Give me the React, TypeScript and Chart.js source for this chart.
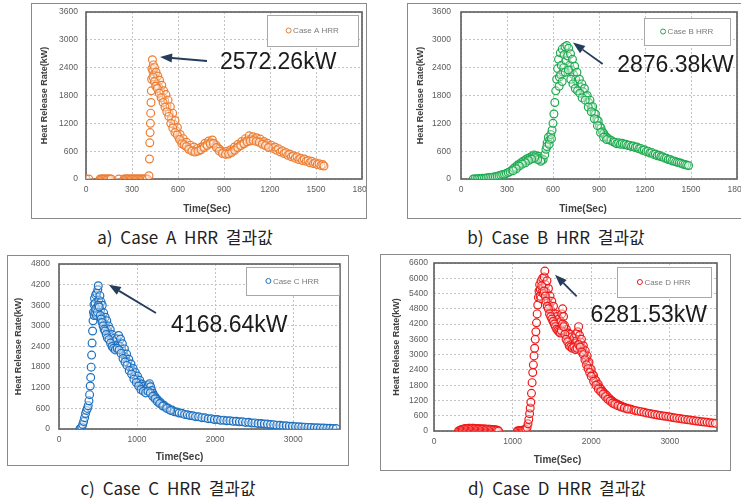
import React, { useEffect, useRef } from "react";
import { Chart, registerables } from "chart.js";

Chart.register(...registerables);

type Pt = [number, number];

// ---------- data (time in s, heat release rate in kW) ----------
const caseAPoints: Pt[] = [
  [0, 0], [18, 0], [92, 0], [100, 0], [108, 0], [116, 0], [124, 0], [132, 0], [140, 0], [148, 0], [156, 0], [164, 0],
  [214, 0], [248, 0], [256, 0], [264, 0], [272, 0], [280, 0], [288, 0], [296, 0], [304, 0], [312, 0], [320, 0],
  [328, 0], [336, 0], [344, 0], [352, 0], [360, 0], [368, 0], [376, 0], [384, 0], [392, 0], [400, 0], [411, 70],
  [414, 430], [416, 780], [418, 1000], [420, 1200], [422, 1420], [424, 1650], [426, 1900], [428, 2150], [430, 2380],
  [433, 2572], [436, 2330], [439, 2460], [443, 2250], [447, 2400], [452, 2120], [457, 2300], [462, 2040], [468, 2220],
  [474, 1980], [480, 2130], [487, 1880], [494, 2020], [500, 1760], [507, 1900], [514, 1680], [521, 1820], [528, 1560],
  [535, 1700], [542, 1420], [550, 1560], [557, 1300], [565, 1420], [572, 1180], [580, 1260], [588, 1040], [596, 1110],
  [605, 900], [614, 960], [624, 820], [634, 870], [645, 720], [656, 790], [668, 670], [680, 730], [692, 620], [704, 690],
  [716, 600], [728, 660], [740, 620], [752, 690], [764, 700], [776, 770], [788, 740], [800, 820], [812, 790], [824, 840],
  [836, 760], [848, 730], [860, 670], [872, 640], [884, 600], [896, 580], [908, 550], [920, 600], [932, 570], [944, 630],
  [956, 610], [968, 690], [980, 660], [992, 750], [1004, 720], [1016, 810], [1028, 780], [1040, 870], [1052, 830],
  [1064, 930], [1076, 860], [1088, 910], [1100, 850], [1112, 890], [1124, 820], [1136, 860], [1148, 780], [1160, 810],
  [1172, 740], [1184, 770], [1196, 700], [1208, 730], [1220, 660], [1232, 690], [1244, 620], [1256, 650], [1268, 580],
  [1280, 610], [1292, 550], [1304, 570], [1316, 510], [1328, 540], [1340, 480], [1352, 500], [1364, 450], [1376, 480],
  [1388, 420], [1400, 450], [1412, 400], [1424, 430], [1436, 380], [1448, 400], [1460, 350], [1472, 380], [1484, 330],
  [1496, 350], [1508, 310], [1520, 330], [1532, 290], [1544, 310], [1552, 280],
  [437, 2200], [445, 2100], [455, 2000], [465, 1950], [478, 1850], [490, 1750], [503, 1650], [515, 1550], [527, 1450],
  [540, 1350], [553, 1200], [566, 1100], [580, 1000], [595, 950], [610, 850], [625, 760], [640, 740], [655, 700],
  [670, 640], [690, 600], [710, 580], [730, 600], [750, 630], [770, 680], [790, 720], [810, 760], [830, 770], [850, 680],
  [870, 600], [890, 550], [910, 530], [930, 540], [950, 570], [970, 620], [990, 680], [1010, 720], [1030, 760],
  [1050, 800], [1070, 820], [1090, 830], [1110, 810], [1130, 790], [1150, 750], [1170, 720], [1190, 680],
];

const caseBPoints: Pt[] = [
  [80, 0], [92, 5], [104, 0], [116, 10], [128, 5], [140, 15], [152, 10], [164, 20], [176, 25], [188, 30], [200, 35],
  [212, 45], [224, 50], [236, 60], [248, 70], [260, 80], [272, 95], [284, 100], [296, 120], [308, 140], [320, 160],
  [332, 190], [344, 230], [356, 260], [368, 300], [380, 320], [392, 350], [404, 380], [416, 400], [428, 430], [440, 450],
  [452, 470], [464, 490], [476, 520], [486, 500], [496, 470], [506, 490], [516, 450], [526, 410], [536, 420], [546, 520],
  [554, 640], [562, 780], [570, 900], [578, 840], [586, 960], [594, 1050], [600, 1200], [606, 1400], [612, 1650],
  [618, 1900], [624, 2150], [630, 2380], [636, 2580], [642, 2200], [648, 2720], [654, 2450], [660, 2800], [666, 2300],
  [672, 2680], [678, 2850], [684, 2550], [690, 2876], [696, 2650], [702, 2820], [708, 2450], [714, 2700], [720, 2350],
  [727, 2580], [734, 2250], [741, 2430], [748, 2150], [756, 2300], [764, 2050], [772, 2150], [780, 1980], [788, 2050],
  [796, 1880], [805, 1950], [814, 1780], [823, 1800], [832, 1650], [841, 1700], [850, 1550], [859, 1560], [868, 1420],
  [877, 1400], [886, 1280], [895, 1250], [904, 1140], [913, 1100], [922, 1020], [931, 980], [940, 930], [950, 900],
  [960, 870], [970, 840], [980, 830], [992, 800], [1004, 790], [1016, 760], [1028, 780], [1040, 750], [1052, 770],
  [1064, 740], [1076, 750], [1088, 720], [1100, 730], [1112, 700], [1124, 710], [1136, 680], [1148, 690], [1160, 650],
  [1172, 660], [1184, 620], [1196, 630], [1208, 590], [1220, 600], [1232, 560], [1244, 570], [1256, 530], [1268, 540],
  [1280, 500], [1292, 510], [1304, 480], [1316, 480], [1328, 450], [1340, 450], [1352, 420], [1364, 420], [1376, 390],
  [1388, 390], [1400, 370], [1412, 360], [1424, 350], [1436, 340], [1448, 320], [1460, 310], [1472, 300], [1484, 290],
  [640, 2000], [650, 2250], [660, 2100], [670, 2400], [680, 2300], [700, 2350], [716, 2150], [730, 2050], [745, 1950],
  [760, 1900], [775, 1850], [790, 1750], [810, 1700], [830, 1550], [850, 1450], [870, 1300], [890, 1150], [910, 1000],
  [930, 900], [950, 850], [560, 700], [575, 750], [590, 870], [520, 380], [500, 420], [480, 460], [460, 430], [440, 400],
  [420, 350], [400, 320], [380, 280], [360, 220], [340, 180],
];

const caseCPoints: Pt[] = [
  [268, 0], [280, 20], [292, 60], [304, 130], [316, 220], [328, 330], [340, 450], [352, 540], [364, 600], [374, 680],
  [384, 820], [392, 1000], [400, 1250], [406, 1500], [412, 1800], [418, 2150], [424, 2500], [430, 2850], [436, 3150],
  [442, 3400], [448, 3620], [455, 3800], [462, 3650], [469, 3900], [476, 3450], [483, 3950], [490, 3550], [497, 4050],
  [503, 4168], [510, 3750], [517, 3350], [524, 3880], [531, 3450], [538, 3700], [546, 3250], [554, 3600], [563, 3150],
  [572, 3380], [582, 3050], [592, 3250], [602, 2950], [612, 3150], [623, 2850], [634, 3000], [645, 2750], [656, 2900],
  [668, 2650], [680, 2750], [692, 2550], [704, 2450], [716, 2650], [728, 2400], [740, 2620], [752, 2450], [764, 2720],
  [776, 2420], [788, 2620], [800, 2330], [812, 2480], [824, 2200], [838, 2330], [852, 2080], [866, 2180], [880, 1940],
  [894, 2030], [908, 1800], [922, 1890], [936, 1700], [950, 1760], [964, 1560], [978, 1640], [992, 1460], [1006, 1540],
  [1020, 1360], [1034, 1420], [1048, 1260], [1062, 1310], [1076, 1200], [1090, 1250], [1104, 1150], [1118, 1180],
  [1132, 1220], [1146, 1280], [1160, 1320], [1174, 1230], [1188, 1120], [1202, 1040], [1216, 980], [1230, 940],
  [1245, 880], [1260, 860], [1280, 800], [1300, 770], [1320, 710], [1345, 690], [1370, 630], [1395, 610], [1420, 560],
  [1450, 550], [1480, 500], [1510, 495], [1540, 465], [1575, 455], [1610, 425], [1645, 415], [1680, 390], [1715, 385],
  [1750, 360], [1790, 355], [1830, 330], [1870, 325], [1910, 300], [1950, 300], [1990, 275], [2030, 275], [2070, 255],
  [2110, 258], [2150, 240], [2190, 242], [2230, 222], [2270, 226], [2310, 208], [2350, 210], [2390, 192], [2430, 194],
  [2470, 176], [2510, 178], [2550, 160], [2590, 160], [2630, 144], [2670, 142], [2710, 128], [2750, 126], [2790, 112],
  [2830, 110], [2870, 96], [2910, 94], [2950, 80], [2990, 80], [3030, 68], [3070, 66], [3110, 56], [3150, 54],
  [3190, 46], [3230, 46], [3270, 38], [3310, 38], [3350, 30], [3390, 30], [3430, 22], [3470, 22], [3510, 15], [3550, 12],
  [450, 3300], [460, 3400], [470, 3500], [480, 3300], [492, 3400], [505, 3600], [515, 3550], [528, 3300], [540, 3200],
  [552, 3100], [565, 3000], [578, 2900], [590, 2850], [605, 2750], [620, 2650], [640, 2600], [660, 2500], [680, 2400],
  [700, 2350], [720, 2300], [745, 2350], [770, 2300], [795, 2200], [820, 2050], [845, 1950], [870, 1850], [900, 1700],
  [930, 1600], [960, 1450], [990, 1350], [1020, 1250], [1050, 1150], [1080, 1100], [1110, 1050], [1140, 1100],
  [1170, 1050], [1200, 950], [1230, 880], [1260, 800], [1290, 740], [1330, 670], [1380, 600], [1430, 540],
];

const caseDPoints: Pt[] = [
  [312, 0], [328, 25], [344, 45], [360, 60], [376, 75], [392, 85], [408, 95], [424, 100], [440, 110], [456, 105],
  [472, 100], [488, 110], [504, 105], [520, 100], [536, 95], [552, 90], [568, 90], [584, 85], [600, 80], [616, 80],
  [632, 75], [648, 75], [664, 70], [680, 70], [696, 65], [712, 65], [728, 60], [744, 55], [760, 50], [776, 45],
  [792, 40], [808, 30], [822, 0],
  [1060, 0], [1076, 10], [1092, 15], [1108, 20], [1124, 30], [1140, 40], [1156, 50], [1170, 70], [1184, 140],
  [1196, 280], [1206, 450], [1216, 680], [1224, 900], [1232, 1130], [1240, 1480], [1248, 1900], [1256, 2300],
  [1264, 2600], [1272, 2950], [1280, 3250], [1288, 3600], [1296, 3900], [1304, 4250], [1312, 4600], [1320, 4950],
  [1328, 5250], [1336, 5500], [1344, 5750], [1353, 5550], [1362, 5900], [1372, 5450], [1382, 6000], [1392, 5650],
  [1402, 6050], [1410, 6281], [1419, 5750], [1428, 5450], [1437, 5900], [1446, 5150], [1456, 5600], [1466, 4950],
  [1476, 5300], [1487, 4750], [1498, 5100], [1509, 4650], [1520, 4900], [1531, 4350], [1542, 4600], [1553, 4250],
  [1564, 4500], [1576, 4100], [1588, 4400], [1600, 4050], [1612, 4300], [1624, 4600], [1636, 4800], [1648, 4500],
  [1660, 4150], [1672, 3900], [1684, 4000], [1696, 3700], [1708, 3850], [1720, 3550], [1732, 3800], [1744, 3450],
  [1756, 3700], [1768, 3350], [1780, 3650], [1792, 3450], [1804, 3800], [1816, 3550], [1828, 3900], [1840, 4100],
  [1852, 3750], [1864, 3500], [1876, 3600], [1888, 3250], [1900, 3350], [1912, 3050], [1924, 3150], [1936, 2850],
  [1948, 2950], [1960, 2650], [1972, 2700], [1986, 2450], [2000, 2420], [2015, 2220], [2030, 2180], [2045, 2020],
  [2060, 1980], [2075, 1840], [2090, 1830], [2108, 1700], [2126, 1640], [2144, 1550], [2162, 1500], [2180, 1430],
  [2198, 1390], [2216, 1310], [2234, 1270], [2252, 1210], [2270, 1170], [2290, 1120], [2315, 1080], [2340, 1040],
  [2365, 1000], [2390, 970], [2420, 930], [2450, 900], [2480, 870], [2510, 850], [2540, 820], [2570, 800], [2600, 780],
  [2635, 760], [2670, 735], [2705, 710], [2740, 690], [2775, 670], [2810, 650], [2845, 630], [2880, 610], [2915, 590],
  [2950, 575], [2985, 555], [3020, 540], [3055, 520], [3090, 505], [3125, 490], [3160, 470], [3195, 455], [3230, 440],
  [3265, 425], [3300, 410], [3335, 395], [3370, 380], [3405, 365], [3440, 350], [3475, 340], [3510, 325], [3545, 310],
  [3580, 300],
  [1350, 5300], [1360, 5200], [1370, 5700], [1390, 5400], [1400, 5500], [1415, 5300], [1425, 5100], [1440, 4900],
  [1455, 4800], [1470, 4600], [1485, 4500], [1500, 4400], [1515, 4300], [1530, 4200], [1545, 4100], [1560, 4000],
  [1575, 3950], [1590, 3900], [1605, 3850], [1620, 3950], [1635, 4200], [1650, 4100], [1665, 3800], [1680, 3600],
  [1700, 3500], [1720, 3350], [1740, 3300], [1760, 3250], [1780, 3300], [1800, 3200], [1820, 3250], [1840, 3400],
  [1860, 3300], [1880, 3100], [1900, 3000], [1920, 2800], [1940, 2600], [1960, 2450], [1980, 2300], [2000, 2150],
  [2030, 1950], [2060, 1800], [2090, 1650], [2120, 1550], [2150, 1450], [2180, 1350], [2210, 1250], [2240, 1180],
  [2270, 1100], [2300, 1050], [2340, 990], [2380, 940], [2420, 900], [2460, 860],
];

// ---------- tick values ----------
const timeTicksAB = [0, 300, 600, 900, 1200, 1500, 1800];
const timeTicksCD = [0, 1000, 2000, 3000];
const hrrTicksAB = [0, 600, 1200, 1800, 2400, 3000, 3600];
const hrrTicksC = [0, 600, 1200, 1800, 2400, 3000, 3600, 4200, 4800];
const hrrTicksD = [0, 600, 1200, 1800, 2400, 3000, 3600, 4200, 4800, 5400, 6000, 6600];

// ---------- labels ----------
const seriesLabels = ["Case A HRR", "Case B HRR", "Case C HRR", "Case D HRR"];
const peakLabels = ["2572.26kW", "2876.38kW", "4168.64kW", "6281.53kW"];
const captions = ["a) Case A HRR 결과값", "b) Case B HRR 결과값", "c) Case C HRR 결과값", "d) Case D HRR 결과값"];
// annotation anchors in data units: [text t, text v, arrow tail t, tail v, arrow tip t, tip v]
const noteA = [874, 2500, 789, 2544, 483, 2630];
const noteB = [1019, 2441, 924, 2477, 730, 2940];
const noteC = [1436, 2996, 1242, 3375, 638, 4198];
const noteD = [1992, 4518, 1815, 5292, 1539, 6141];

const FONT = '"Liberation Sans", Arial, sans-serif';

type PanelCfg = {
  label: string;
  peak: string;
  note: number[];
  points: Pt[];
  color: string;
  xMax: number;
  yMax: number;
  xTicks: number[];
  yTicks: number[];
  frame: { left: number; top: number; w: number; h: number };
  canvasW: number;
  canvasH: number;
  yAxisW: number;
  xAxisH: number;
  padRight: number;
  yTickPad: number;
  yTitlePad: number;
  xTitleDx: number;
  xTitleDy: number;
  legend: { dr: number; dt: number; w: number; h: number };
};

const panels: PanelCfg[] = [
  {
    label: seriesLabels[0], peak: peakLabels[0], note: noteA, points: caseAPoints, color: "#ED7D31",
    xMax: 1800, yMax: 3600, xTicks: timeTicksAB, yTicks: hrrTicksAB,
    frame: { left: 31, top: 3, w: 336, h: 216 }, canvasW: 374, canvasH: 214,
    yAxisW: 54, xAxisH: 39, padRight: 44, yTickPad: 8, yTitlePad: 7, xTitleDx: -17, xTitleDy: 30,
    legend: { dr: 4, dt: 3, w: 91, h: 31 },
  },
  {
    label: seriesLabels[1], peak: peakLabels[1], note: noteB, points: caseBPoints, color: "#1DAA4F",
    xMax: 1800, yMax: 3600, xTicks: timeTicksAB, yTicks: hrrTicksAB,
    frame: { left: 407, top: 3, w: 336, h: 216 }, canvasW: 374, canvasH: 214,
    yAxisW: 53, xAxisH: 39, padRight: 45, yTickPad: 10, yTitlePad: 7, xTitleDx: -16, xTitleDy: 30,
    legend: { dr: 7, dt: 6, w: 86, h: 27 },
  },
  {
    label: seriesLabels[2], peak: peakLabels[2], note: noteC, points: caseCPoints, color: "#1C6FBF",
    xMax: 3600, yMax: 4800, xTicks: timeTicksCD, yTicks: hrrTicksC,
    frame: { left: 7, top: 255, w: 342, h: 211 }, canvasW: 340, canvasH: 209,
    yAxisW: 51, xAxisH: 36, padRight: 8, yTickPad: 9, yTitlePad: 5, xTitleDx: -20, xTitleDy: 28,
    legend: { dr: 1, dt: 3, w: 93, h: 28 },
  },
  {
    label: seriesLabels[3], peak: peakLabels[3], note: noteD, points: caseDPoints, color: "#F01818",
    xMax: 3600, yMax: 6600, xTicks: timeTicksCD, yTicks: hrrTicksD,
    frame: { left: 380, top: 254, w: 351, h: 217 }, canvasW: 349, canvasH: 215,
    yAxisW: 53, xAxisH: 39, padRight: 13, yTickPad: 6, yTitlePad: 10, xTitleDx: -18, xTitleDy: 29,
    legend: { dr: 6, dt: 4, w: 94, h: 30 },
  },
];

const captionPos = [
  { cx: 185, cy: 237 },
  { cx: 556, cy: 237 },
  { cx: 168, cy: 488 },
  { cx: 557, cy: 488 },
];

function drawArrow(ctx: CanvasRenderingContext2D, x1: number, y1: number, x2: number, y2: number, color: string) {
  const ang = Math.atan2(y2 - y1, x2 - x1);
  const hl = 12;
  const hw = 4.5;
  const bx = x2 - hl * Math.cos(ang);
  const by = y2 - hl * Math.sin(ang);
  ctx.save();
  ctx.strokeStyle = color;
  ctx.fillStyle = color;
  ctx.lineWidth = 1.8;
  ctx.beginPath();
  ctx.moveTo(x1, y1);
  ctx.lineTo(bx, by);
  ctx.stroke();
  ctx.beginPath();
  ctx.moveTo(x2, y2);
  ctx.lineTo(bx + hw * Math.sin(ang), by - hw * Math.cos(ang));
  ctx.lineTo(bx - hw * Math.sin(ang), by + hw * Math.cos(ang));
  ctx.closePath();
  ctx.fill();
  ctx.restore();
}

function buildConfig(c: PanelCfg): any {
  const decor = {
    id: "decor",
    beforeDatasetsDraw(chart: any) {
      const { left, right, top, bottom } = chart.chartArea;
      const ctx = chart.ctx as CanvasRenderingContext2D;
      ctx.save();
      ctx.strokeStyle = "#5e5e5e";
      ctx.lineWidth = 1.6;
      ctx.strokeRect(left, top, right - left, bottom - top);
      ctx.restore();
    },
    afterDraw(chart: any) {
      const { left, right, top, bottom } = chart.chartArea;
      const ctx = chart.ctx as CanvasRenderingContext2D;
      const xs = chart.scales.x;
      const ys = chart.scales.y;
      ctx.save();
      // x axis title
      ctx.font = `bold 10px ${FONT}`;
      ctx.fillStyle = "#404040";
      ctx.textAlign = "center";
      ctx.textBaseline = "middle";
      ctx.fillText("Time(Sec)", (left + right) / 2 + c.xTitleDx, bottom + c.xTitleDy);
      // legend box
      const lg = c.legend;
      const x0 = right - lg.dr - lg.w;
      const y0 = top + lg.dt;
      ctx.fillStyle = "#ffffff";
      ctx.fillRect(x0, y0, lg.w, lg.h);
      ctx.strokeStyle = "#a8a8a8";
      ctx.lineWidth = 1;
      ctx.strokeRect(Math.round(x0) + 0.5, Math.round(y0) + 0.5, lg.w, lg.h);
      ctx.font = `8px ${FONT}`;
      const tw = ctx.measureText(c.label).width;
      const total = 7 + tw;
      const sx = x0 + lg.w / 2 - total / 2;
      const my = y0 + lg.h / 2;
      ctx.strokeStyle = c.color;
      ctx.lineWidth = 1;
      ctx.beginPath();
      ctx.arc(sx + 2.5, my, 2.5, 0, Math.PI * 2);
      ctx.stroke();
      ctx.fillStyle = "#7a7a7a";
      ctx.textAlign = "left";
      ctx.fillText(c.label, sx + 7, my + 0.5);
      // arrow and peak label
      const n = c.note;
      drawArrow(
        ctx,
        xs.getPixelForValue(n[2]), ys.getPixelForValue(n[3]),
        xs.getPixelForValue(n[4]), ys.getPixelForValue(n[5]),
        "#253c5a"
      );
      ctx.font = `23px ${FONT}`;
      ctx.fillStyle = "#1c1c1c";
      ctx.textAlign = "left";
      ctx.textBaseline = "middle";
      ctx.fillText(c.peak, xs.getPixelForValue(n[0]), ys.getPixelForValue(n[1]));
      ctx.restore();
    },
  };

  const plain = (v: any) => String(v);

  return {
    type: "scatter",
    data: {
      datasets: [
        {
          label: c.label,
          data: c.points.map(([x, y]) => ({ x, y })),
          showLine: false,
          pointRadius: 3.9,
          pointHoverRadius: 3.9,
          pointBorderWidth: 1.2,
          pointBorderColor: c.color,
          pointBackgroundColor: "rgba(255,255,255,0.35)",
        },
      ],
    },
    options: {
      responsive: false,
      animation: false,
      devicePixelRatio: 1,
      events: [],
      layout: { padding: { left: 0, top: 8, right: c.padRight, bottom: 0 } },
      plugins: { legend: { display: false }, tooltip: { enabled: false } },
      scales: {
        x: {
          type: "linear",
          min: 0,
          max: c.xMax,
          afterBuildTicks: (s: any) => {
            s.ticks = c.xTicks.map((v) => ({ value: v }));
          },
          afterFit: (s: any) => {
            s.height = c.xAxisH;
            s.paddingLeft = 0;
            s.paddingRight = 0;
          },
          grid: { color: "#c4c4c4", lineWidth: 1, drawTicks: false },
          border: { display: false, dash: [2, 2] },
          ticks: {
            padding: 6,
            color: "#5c5c5c",
            font: { size: 8.5, family: FONT },
            maxRotation: 0,
            autoSkip: false,
            callback: plain,
          },
          title: { display: false },
        },
        y: {
          type: "linear",
          min: 0,
          max: c.yMax,
          afterBuildTicks: (s: any) => {
            s.ticks = c.yTicks.map((v) => ({ value: v }));
          },
          afterFit: (s: any) => {
            s.width = c.yAxisW;
            s.paddingTop = 0;
            s.paddingBottom = 0;
          },
          grid: { color: "#c4c4c4", lineWidth: 1, drawTicks: false },
          border: { display: false, dash: [2, 2] },
          ticks: {
            padding: c.yTickPad,
            color: "#5c5c5c",
            font: { size: 8.5, family: FONT },
            autoSkip: false,
            callback: plain,
          },
          title: {
            display: true,
            text: "Heat Release Rate(kW)",
            color: "#404040",
            font: { size: 9, weight: "bold", family: FONT },
            padding: { top: c.yTitlePad, bottom: 0 },
          },
        },
      },
    },
    plugins: [decor],
  };
}

function Panel({ cfg }: { cfg: PanelCfg }) {
  const ref = useRef<HTMLCanvasElement>(null);
  useEffect(() => {
    if (!ref.current) return;
    const chart = new Chart(ref.current, buildConfig(cfg));
    return () => chart.destroy();
  }, [cfg]);
  return (
    <div
      style={{
        position: "absolute",
        left: cfg.frame.left,
        top: cfg.frame.top,
        width: cfg.frame.w,
        height: cfg.frame.h,
        border: "1px solid #8a8a8a",
        boxSizing: "border-box",
        overflow: "hidden",
        background: "#fff",
      }}
    >
      <canvas
        ref={ref}
        width={cfg.canvasW}
        height={cfg.canvasH}
        style={{ position: "absolute", left: 0, top: 0, width: cfg.canvasW, height: cfg.canvasH }}
      />
    </div>
  );
}

export default function App() {
  return (
    <div
      style={{
        position: "absolute",
        left: 0,
        top: 0,
        width: 741,
        height: 502,
        overflow: "hidden",
        background: "#fff",
      }}
    >
      {panels.map((p, i) => (
        <Panel key={i} cfg={p} />
      ))}
      {captions.map((t, i) => (
        <div
          key={"cap" + i}
          style={{
            position: "absolute",
            left: captionPos[i].cx - 150,
            top: captionPos[i].cy - 12,
            width: 300,
            height: 24,
            lineHeight: "24px",
            textAlign: "center",
            fontFamily: '"Noto Sans CJK KR", sans-serif',
            fontSize: 17,
            wordSpacing: 4,
            color: "#222",
            whiteSpace: "nowrap",
          }}
        >
          {t}
        </div>
      ))}
    </div>
  );
}
